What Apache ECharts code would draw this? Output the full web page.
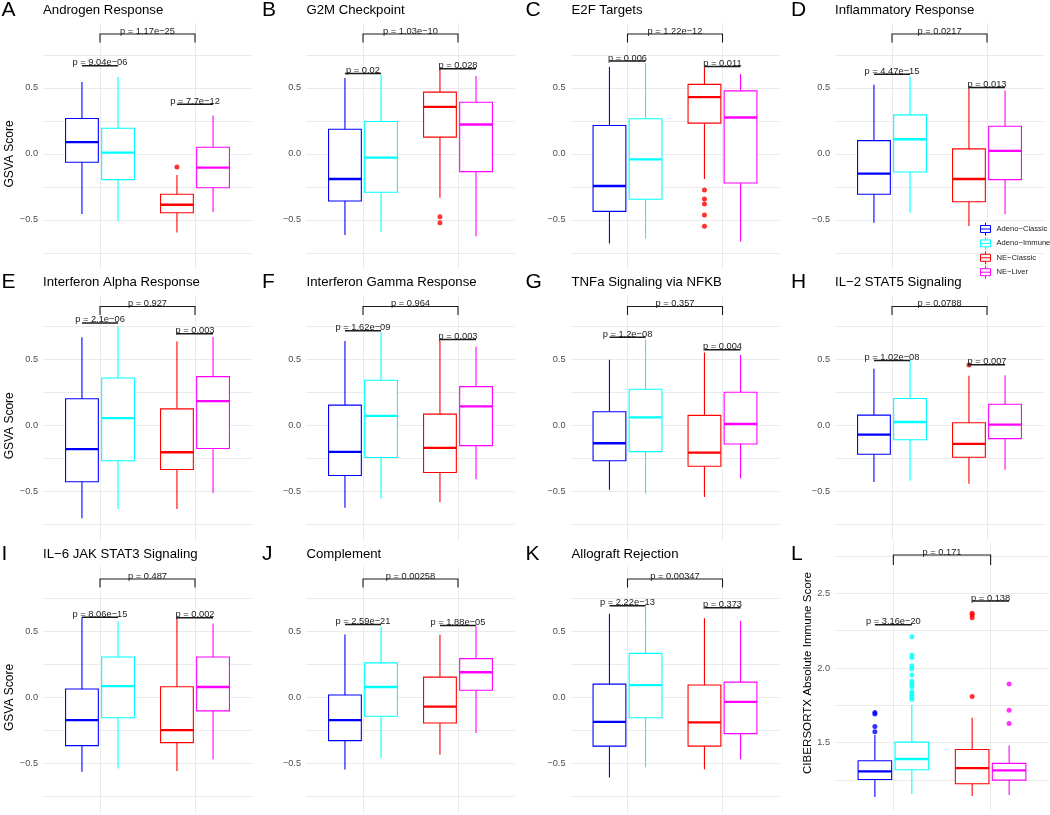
<!DOCTYPE html>
<html><head><meta charset="utf-8">
<script src="https://cdn.jsdelivr.net/npm/echarts@6/dist/echarts.min.js"></script>
<style>html,body{margin:0;padding:0;background:#fff}#chart{width:1050px;height:815px}</style>
</head><body><div id="chart"></div>
<script>
// ---------------- DATA ----------------
const GROUPS = ['Adeno−Classic', 'Adeno−Immune', 'NE−Classic', 'NE−Liver'];
const GROUP_COLORS = ['#0000FF', '#00FFFF', '#FF0000', '#FF00FF'];
const GROUP_CATEGORY = [1, 1, 2, 2];     // Adeno = 1, NE = 2
const GROUP_SIDE = [-1, 1, -1, 1];       // dodge side inside the category

const PANEL_LETTERS = ['A','B','C','D','E','F','G','H','I','J','K','L'];
const PANEL_TITLES = ['Androgen Response', 'G2M Checkpoint', 'E2F Targets', 'Inflammatory Response',
  'Interferon Alpha Response', 'Interferon Gamma Response', 'TNFa Signaling via NFKB', 'IL−2 STAT5 Signaling',
  'IL−6 JAK STAT3 Signaling', 'Complement', 'Allograft Rejection', ''];
const Y_TITLES = ['GSVA Score','','','','GSVA Score','','','','GSVA Score','','','CIBERSORTX Absolute Immune Score'];

// box statistics per panel: [min, Q1, median, Q3, max]
const ADENO_CLASSIC_BOX = [
  [-0.456,-0.063,0.089,0.268,0.544], [-0.615,-0.357,-0.190,0.187,0.575], [-0.678,-0.435,-0.243,0.215,0.658], [-0.522,-0.306,-0.149,0.101,0.524],
  [-0.701,-0.425,-0.178,0.204,0.671], [-0.621,-0.377,-0.198,0.156,0.641], [-0.485,-0.266,-0.133,0.106,0.500], [-0.427,-0.216,-0.068,0.080,0.432],
  [-0.564,-0.366,-0.173,0.063,0.607], [-0.546,-0.328,-0.173,0.018,0.476], [-0.607,-0.370,-0.186,0.100,0.634], [1.136,1.254,1.308,1.379,1.551]];
const ADENO_IMMUNE_BOX = [
  [-0.511,-0.195,0.010,0.195,0.582], [-0.590,-0.291,-0.028,0.246,0.600], [-0.643,-0.344,-0.041,0.266,0.689], [-0.446,-0.137,0.111,0.296,0.587],
  [-0.631,-0.266,0.058,0.362,0.754], [-0.553,-0.241,0.075,0.344,0.706], [-0.515,-0.196,0.063,0.276,0.653], [-0.417,-0.106,0.028,0.206,0.495],
  [-0.539,-0.155,0.085,0.306,0.576], [-0.459,-0.143,0.078,0.261,0.536], [-0.530,-0.155,0.093,0.333,0.686], [1.156,1.319,1.391,1.504,1.754]];
const NE_CLASSIC_BOX = [
  [-0.595,-0.446,-0.385,-0.306,-0.159], [-0.332,0.127,0.357,0.468,0.646], [-0.190,0.233,0.430,0.527,0.651], [-0.547,-0.362,-0.190,0.038,0.491],
  [-0.631,-0.332,-0.201,0.128,0.638], [-0.578,-0.354,-0.168,0.088,0.641], [-0.540,-0.307,-0.204,0.078,0.555], [-0.440,-0.239,-0.138,0.023,0.379],
  [-0.559,-0.343,-0.248,0.080,0.602], [-0.436,-0.195,-0.070,0.153,0.474], [-0.545,-0.370,-0.190,0.093,0.600], [1.143,1.225,1.330,1.455,1.667]];
const NE_LIVER_BOX = [
  [-0.441,-0.256,-0.104,0.051,0.291], [-0.623,-0.134,0.223,0.392,0.590], [-0.663,-0.220,0.276,0.478,0.605], [-0.458,-0.195,0.023,0.210,0.481],
  [-0.510,-0.173,0.186,0.372,0.673], [-0.405,-0.151,0.146,0.296,0.601], [-0.399,-0.138,0.013,0.254,0.535], [-0.334,-0.098,0.008,0.163,0.382],
  [-0.471,-0.103,0.078,0.306,0.559], [-0.271,0.053,0.190,0.293,0.536], [-0.470,-0.275,-0.035,0.115,0.580], [1.150,1.250,1.315,1.362,1.482]];

// outliers per panel
const ADENO_CLASSIC_OUT = [[],[],[],[],[],[],[],[],[],[],[], [1.574,1.609,1.692,1.703]];
const ADENO_IMMUNE_OUT = [[],[],[],[],[],[],[],[],[],[],[],
  [1.790,1.808,1.824,1.842,1.875,1.893,1.911,1.953,1.996,2.016,2.071,2.087,2.210]];
const NE_CLASSIC_OUT = [[-0.099], [-0.476,-0.522], [-0.273,-0.342,-0.380,-0.463,-0.549], [], [], [], [], [0.460], [], [], [],
  [1.810,2.337,2.357,2.366]];
const NE_LIVER_OUT = [[],[],[],[],[],[],[],[],[],[],[], [1.629,1.717,1.893]];

// comparisons
const P_ADENO_LABEL = ['p = 9.04e−06','p = 0.02','p = 0.006','p = 4.47e−15','p = 2.1e−06','p = 1.62e−09','p = 1.2e−08','p = 1.02e−08','p = 8.06e−15','p = 2.59e−21','p = 2.22e−13','p = 3.16e−20'];
const P_ADENO_Y = [0.668,0.610,0.704,0.603,0.779,0.719,0.671,0.495,0.607,0.551,0.694,2.290];
const P_NE_LABEL = ['p = 7.7e−12','p = 0.028','p = 0.011','p = 0.013','p = 0.003','p = 0.003','p = 0.004','p = 0.007','p = 0.002','p = 1.88e−05','p = 0.373','p = 0.138'];
const P_NE_Y = [0.377,0.646,0.663,0.504,0.696,0.653,0.575,0.462,0.602,0.544,0.679,2.449];
const P_ALL_LABEL = ['p = 1.17e−25','p = 1.03e−10','p = 1.22e−12','p = 0.0217','p = 0.927','p = 0.964','p = 0.357','p = 0.0788','p = 0.487','p = 0.00258','p = 0.00347','p = 0.171'];
const P_ALL_Y = [0.909,0.909,0.909,0.909,0.903,0.903,0.903,0.903,0.896,0.896,0.896,2.757];
const P_ALL_TIP = [0.064,0.064,0.064,0.064,0.064,0.064,0.064,0.064,0.064,0.064,0.064,0.067];

// axes
const GSVA_RANGE = [-0.872, 0.992];
const IMMUNE_RANGE = [1.043, 2.837];
const GSVA_TICKS = [-0.5, 0, 0.5];
const GSVA_GRID = [-0.75, -0.5, -0.25, 0, 0.25, 0.5, 0.75];
const IMMUNE_TICKS = [1.5, 2.0, 2.5];
const IMMUNE_GRID = [1.25, 1.5, 1.75, 2.0, 2.25, 2.5, 2.75];
const X_CATEGORY_TICKS = [1, 2];

// ---------------- LAYOUT / STYLE ----------------
const FONT = 'Liberation Sans, Arial, Helvetica, sans-serif';
const COL_LEFT = [43, 306, 570.5, 835];
const ROW_TOP = [23, 294.8, 566.4];
const LETTER_X = [1.5, 262, 525.5, 791];
const TITLE_X = [43, 306.5, 571.5, 835];
const ROW_TEXT_Y = [10.5, 282.3, 554.5];
const DODGE = 0.19, BOX_W = 0.345;
const GRID_COLOR = '#EBEBEB';

const BOXES = [ADENO_CLASSIC_BOX, ADENO_IMMUNE_BOX, NE_CLASSIC_BOX, NE_LIVER_BOX];
const OUTS = [ADENO_CLASSIC_OUT, ADENO_IMMUNE_OUT, NE_CLASSIC_OUT, NE_LIVER_OUT];

function fmtTick(v) {
  return (v < 0 ? '−' : '') + Math.abs(v).toFixed(1);
}

function renderBox(params, api) {
  const x = api.value(0);
  const lo = api.coord([x, api.value(1)]);
  const q1 = api.coord([x, api.value(2)]);
  const md = api.coord([x, api.value(3)]);
  const q3 = api.coord([x, api.value(4)]);
  const hi = api.coord([x, api.value(5)]);
  const hw = api.size([BOX_W, 0])[0] / 2;
  const c = api.visual('color');
  return {
    type: 'group',
    children: [
      { type: 'line', shape: { x1: lo[0], y1: lo[1], x2: q1[0], y2: q1[1] }, style: { stroke: c, lineWidth: 1.1 } },
      { type: 'line', shape: { x1: q3[0], y1: q3[1], x2: hi[0], y2: hi[1] }, style: { stroke: c, lineWidth: 1.1 } },
      { type: 'rect', shape: { x: q3[0] - hw, y: q3[1], width: 2 * hw, height: q1[1] - q3[1] }, style: { fill: '#fff', stroke: c, lineWidth: 1.1 } },
      { type: 'line', shape: { x1: md[0] - hw, y1: md[1], x2: md[0] + hw, y2: md[1] }, style: { stroke: c, lineWidth: 2.3 } }
    ]
  };
}

function makeBracketRenderer(p) {
  const labels = [P_ADENO_LABEL[p], P_NE_LABEL[p], P_ALL_LABEL[p]];
  return function (params, api) {
    const x1 = api.value(0), x2 = api.value(1), y = api.value(2), yt = api.value(3);
    const a = api.coord([x1, yt]), b = api.coord([x1, y]), c = api.coord([x2, y]), d = api.coord([x2, yt]);
    const isLong = params.dataIndex === 2;
    return {
      type: 'group',
      children: [
        { type: 'polyline', shape: { points: [a, b, c, d] }, style: { stroke: '#1a1a1a', lineWidth: isLong ? 1.1 : 1.5, fill: null } },
        { type: 'text', x: (b[0] + c[0]) / 2, y: b[1] + 1.5,
          style: { text: labels[params.dataIndex], fontSize: 9.3, fontFamily: FONT, fill: '#1a1a1a', align: 'center', verticalAlign: 'bottom' } }
      ]
    };
  };
}

const grids = [], xAxes = [], yAxes = [], series = [], graphics = [];

for (let p = 0; p < 12; p++) {
  const row = Math.floor(p / 4), col = p % 4;
  const isImmune = p === 11;
  grids.push({
    left: COL_LEFT[col],
    top: isImmune ? 543 : ROW_TOP[row],
    width: isImmune ? 214 : 209,
    height: isImmune ? 268 : 246
  });
  xAxes.push({
    gridIndex: p, type: 'value', min: 0.4, max: 2.6,
    axisLine: { show: false },
    axisTick: { show: false, customValues: X_CATEGORY_TICKS },
    axisLabel: { show: false, customValues: X_CATEGORY_TICKS },
    splitLine: { show: true, lineStyle: { color: GRID_COLOR, width: 1 } }
  });
  yAxes.push({
    gridIndex: p, type: 'value',
    min: isImmune ? IMMUNE_RANGE[0] : GSVA_RANGE[0],
    max: isImmune ? IMMUNE_RANGE[1] : GSVA_RANGE[1],
    name: Y_TITLES[p], nameLocation: 'middle', nameGap: isImmune ? 17.5 : 25,
    nameTextStyle: { fontSize: isImmune ? 11.6 : 12, color: '#000', fontFamily: FONT,
      padding: isImmune ? [0, 0, 0, 8] : [0, 16, 0, 0] },
    axisLine: { show: false },
    axisTick: { show: false, customValues: isImmune ? IMMUNE_GRID : GSVA_GRID },
    axisLabel: { customValues: isImmune ? IMMUNE_TICKS : GSVA_TICKS, formatter: fmtTick,
      fontSize: 9.2, color: '#4D4D4D', margin: 5, fontFamily: FONT },
    splitLine: { show: true, lineStyle: { color: GRID_COLOR, width: 1 } }
  });

  for (let g = 0; g < 4; g++) {
    const x = GROUP_CATEGORY[g] + GROUP_SIDE[g] * DODGE;
    series.push({
      type: 'custom', name: GROUPS[g], xAxisIndex: p, yAxisIndex: p,
      data: [[x].concat(BOXES[g][p])],
      renderItem: renderBox, itemStyle: { color: GROUP_COLORS[g] },
      clip: false, z: 2, silent: true
    });
    if (OUTS[g][p].length) {
      series.push({
        type: 'scatter', name: GROUPS[g], xAxisIndex: p, yAxisIndex: p,
        data: OUTS[g][p].map(v => [x, v]),
        symbolSize: 5, itemStyle: { color: GROUP_COLORS[g] }, z: 3, silent: true
      });
    }
  }
  series.push({
    type: 'custom', name: 'comparisons', xAxisIndex: p, yAxisIndex: p,
    data: [
      [1 - DODGE, 1 + DODGE, P_ADENO_Y[p], P_ADENO_Y[p]],
      [2 - DODGE, 2 + DODGE, P_NE_Y[p], P_NE_Y[p]],
      [1, 2, P_ALL_Y[p], P_ALL_Y[p] - P_ALL_TIP[p]]
    ],
    renderItem: makeBracketRenderer(p), clip: false, z: 4, silent: true
  });

  graphics.push({ type: 'text', x: LETTER_X[col], y: ROW_TEXT_Y[row],
    style: { text: PANEL_LETTERS[p], fontSize: 21, fontFamily: FONT, fill: '#000', verticalAlign: 'middle' } });
  if (PANEL_TITLES[p]) {
    graphics.push({ type: 'text', x: TITLE_X[col], y: ROW_TEXT_Y[row],
      style: { text: PANEL_TITLES[p], fontSize: 13.2, fontFamily: FONT, fill: '#000', verticalAlign: 'middle' } });
  }
}

const chart = echarts.init(document.getElementById('chart'), null, { renderer: 'canvas' });
chart.setOption({
  animation: false,
  backgroundColor: '#fff',
  textStyle: { fontFamily: FONT },
  grid: grids, xAxis: xAxes, yAxis: yAxes, series: series,
  graphic: graphics,
  legend: {
    left: 980, top: 222, orient: 'vertical', selectedMode: false, padding: 0,
    itemWidth: 12, itemHeight: 13, itemGap: 0.4,
    icon: 'path://M6,0L6,3M1,3L11,3L11,10L1,10ZM1,6.5L11,6.5M6,10L6,13',
    textStyle: { fontSize: 7.6, color: '#1a1a1a', fontFamily: FONT },
    data: GROUPS.map((g, i) => ({ name: g, itemStyle: { color: '#fff', borderColor: GROUP_COLORS[i], borderWidth: 1 } }))
  }
});
</script></body></html>
